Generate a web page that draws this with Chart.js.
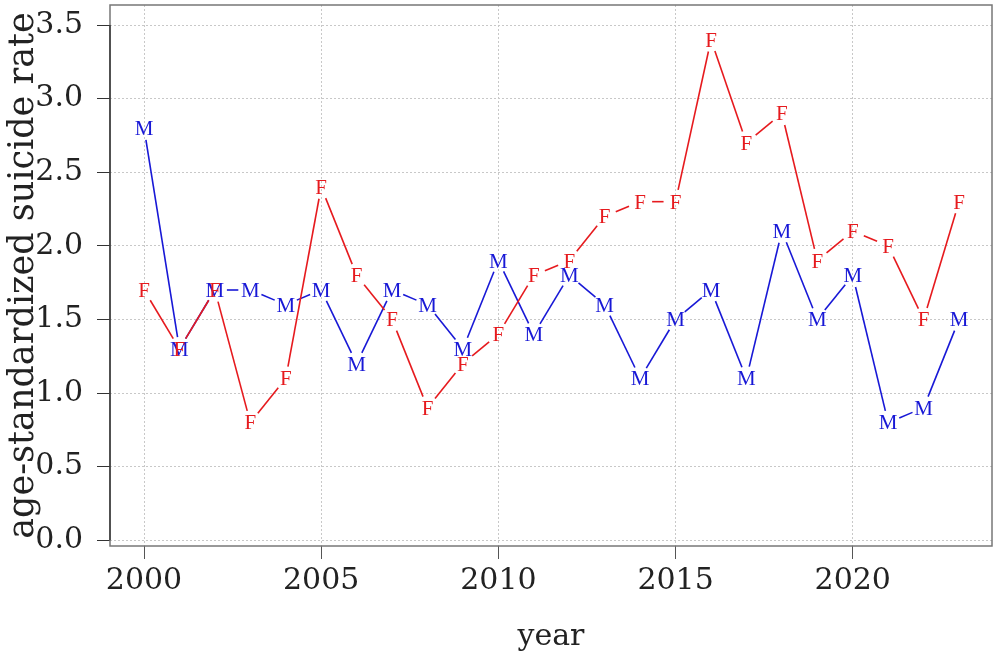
<!DOCTYPE html>
<html>
<head>
<meta charset="utf-8">
<script src="https://cdn.jsdelivr.net/npm/chart.js@4.4.1/dist/chart.umd.min.js"></script>
<style>
html,body{margin:0;padding:0;background:#fff;}
#wrap{width:1000px;height:660px;position:relative;}
</style>
</head>
<body>
<div id="wrap"><canvas id="c"></canvas></div>
<script>
const years = [2000,2001,2002,2003,2004,2005,2006,2007,2008,2009,2010,2011,2012,2013,2014,2015,2016,2017,2018,2019,2020,2021,2022,2023];
const maleRate   = [2.8,1.3,1.7,1.7,1.6,1.7,1.2,1.7,1.6,1.3,1.9,1.4,1.8,1.6,1.1,1.5,1.7,1.1,2.1,1.5,1.8,0.8,0.9,1.5];
const femaleRate = [1.7,1.3,1.7,0.8,1.1,2.4,1.8,1.5,0.9,1.2,1.4,1.8,1.9,2.2,2.3,2.3,3.4,2.7,2.9,1.9,2.1,2.0,1.5,2.3];
const xTicks = [2000,2005,2010,2015,2020];
const yTicks = [0.0,0.5,1.0,1.5,2.0,2.5,3.0,3.5];
const seriesLabels = ['M','F'];

const RED = '#e61a1e';
const BLUE = '#1818d6';
const TICKFONT = {family:'"DejaVu Serif", serif', size:30};
const YTITLEFONT = {family:'"DejaVu Serif", serif', size:35};

const letterPlugin = {
  id:'letters',
  afterDatasetsDraw(chart){
    const ctx = chart.ctx;
    const area = chart.chartArea;
    ctx.save();
    ctx.beginPath();
    ctx.rect(area.left, area.top, area.right-area.left, area.bottom-area.top);
    ctx.clip();
    chart.data.datasets.forEach((ds, di) => {
      const meta = chart.getDatasetMeta(di);
      const pts = meta.data;
      const gap = 12;
      ctx.strokeStyle = ds.borderColor;
      ctx.lineWidth = 1.6;
      for (let i=0;i<pts.length-1;i++){
        const a = pts[i], b = pts[i+1];
        const dx = b.x-a.x, dy = b.y-a.y;
        const len = Math.hypot(dx,dy);
        if (len <= 2*gap) continue;
        const ux = dx/len, uy = dy/len;
        ctx.beginPath();
        ctx.moveTo(a.x+ux*gap, a.y+uy*gap);
        ctx.lineTo(b.x-ux*gap, b.y-uy*gap);
        ctx.stroke();
      }
      ctx.fillStyle = ds.borderColor;
      ctx.font = '21px "Liberation Serif", "DejaVu Serif", serif';
      ctx.textAlign = 'center';
      ctx.textBaseline = 'alphabetic';
      pts.forEach(p => {
        ctx.fillText(ds.label, p.x, p.y + 7);
      });
    });
    ctx.restore();

    // box and axis line
    const ys = chart.scales.y;
    ctx.save();
    ctx.strokeStyle = '#777';
    ctx.lineWidth = 1.5;
    ctx.strokeRect(area.left, area.top, area.right-area.left, area.bottom-area.top);
    ctx.strokeStyle = '#222';
    ctx.lineWidth = 1.2;
    ctx.beginPath();
    ctx.moveTo(area.left, ys.getPixelForValue(yTicks[0]));
    ctx.lineTo(area.left, ys.getPixelForValue(yTicks[yTicks.length-1]));
    ctx.stroke();
    ctx.restore();
  }
};

new Chart(document.getElementById('c'), {
  type:'scatter',
  data:{
    datasets:[
      {label:seriesLabels[0], data:years.map((y,i)=>({x:y,y:maleRate[i]})), borderColor:BLUE, backgroundColor:BLUE, pointRadius:0, showLine:false},
      {label:seriesLabels[1], data:years.map((y,i)=>({x:y,y:femaleRate[i]})), borderColor:RED, backgroundColor:RED, pointRadius:0, showLine:false}
    ]
  },
  options:{
    responsive:true,
    maintainAspectRatio:false,
    animation:false,
    devicePixelRatio:1,
    layout:{padding:{top:5,right:8,left:0,bottom:0}},
    plugins:{legend:{display:false},tooltip:{enabled:false}},
    scales:{
      x:{
        type:'linear', min:1999.04, max:2023.93,
        afterFit(s){ s.height = 114; s.paddingLeft = 0; s.paddingRight = 0; },
        afterBuildTicks(s){ s.ticks = xTicks.map(v=>({value:v})); },
        ticks:{color:'#222', font:TICKFONT, padding:4, maxRotation:0, autoSkip:false, callback:v=>String(v)},
        grid:{color:'#c8c8c8', lineWidth:1, drawTicks:true, tickLength:13, tickColor:'#555', tickWidth:1, tickBorderDash:[]},
        border:{display:false, dash:[2,2]},
        title:{display:true, text:'year', color:'#222', font:TICKFONT, padding:{top:0,bottom:5}}
      },
      y:{
        type:'linear', min:-0.039, max:3.636,
        afterFit(s){ s.width = 110; s.paddingTop = 0; s.paddingBottom = 0; },
        afterBuildTicks(s){ s.ticks = yTicks.map(v=>({value:v})); },
        ticks:{color:'#222', font:TICKFONT, padding:14, autoSkip:false, callback:v=>v.toFixed(1)},
        grid:{color:'#c8c8c8', lineWidth:1, drawTicks:true, tickLength:13, tickColor:'#333', tickWidth:1, tickBorderDash:[]},
        border:{display:false, dash:[2,2]},
        title:{display:true, text:'age-standardized suicide rate', color:'#222', font:YTITLEFONT, padding:{top:3,bottom:0}}
      }
    }
  },
  plugins:[letterPlugin]
});
</script>
</body>
</html>
